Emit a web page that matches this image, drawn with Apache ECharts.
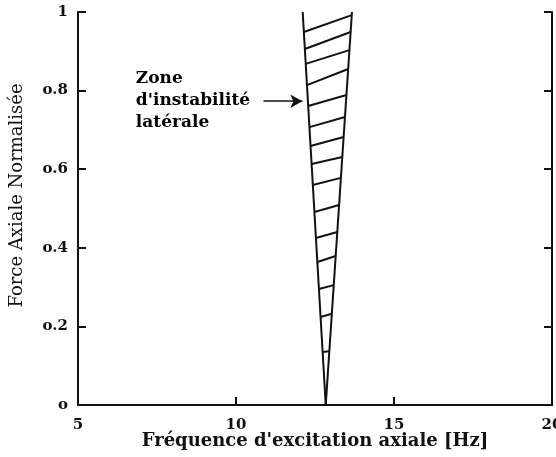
<!DOCTYPE html>
<html>
<head>
<meta charset="utf-8">
<script src="https://cdn.jsdelivr.net/npm/echarts@6/dist/echarts.min.js"></script>
<style>
  html, body { margin: 0; padding: 0; background: #fff; }
  #chart { width: 556px; height: 457px; }
</style>
</head>
<body>
<div id="chart"></div>
<script>
var chart = echarts.init(document.getElementById('chart'));

// bords de la zone d'instabilité : [frequence, force]
var leftEdge = [[12.84, 0], [12.11, 1]];
var rightEdge = [[12.84, 0], [13.67, 1]];

// hachures : hauteur du point gauche et du point droit
var hatchLeftY = [0.949, 0.906, 0.868, 0.814, 0.761, 0.707, 0.659, 0.613, 0.560, 0.491, 0.425, 0.364, 0.295, 0.224, 0.135];
var hatchRightY = [0.992, 0.949, 0.903, 0.855, 0.789, 0.733, 0.682, 0.631, 0.578, 0.509, 0.440, 0.379, 0.305, 0.232, 0.137];

var xTicks = [5, 10, 15, 20];
var yTicks = ['o', 'o.2', 'o.4', 'o.6', 'o.8', '1'];

var arrowFrom = [10.87, 0.773];
var arrowTo = [12.1, 0.773];
var zoneText = ['Zone', "d'instabilité", 'latérale'];
var zoneTextPos = [6.83, 0.775];

// x sur un bord pour une hauteur donnée
function onEdge(edge, y) {
    var a = edge[0], b = edge[1];
    return a[0] + (b[0] - a[0]) * (y - a[1]) / (b[1] - a[1]);
}

var hatchData = [];
for (var i = 0; i < hatchLeftY.length; i++) {
    hatchData.push([onEdge(leftEdge, hatchLeftY[i]), hatchLeftY[i]]);
    hatchData.push([onEdge(rightEdge, hatchRightY[i]), hatchRightY[i]]);
    hatchData.push(null);
}

var serif = 'DejaVu Serif';
var lineStyle = { color: '#111', width: 2 };

var option = {
    animation: false,
    grid: { left: 78, right: 4, top: 12, bottom: 52, outerBoundsMode: 'none' },
    xAxis: [{
        type: 'value', min: 5, max: 20, interval: 5,
        name: "Fréquence d'excitation axiale [Hz]",
        nameLocation: 'middle', nameGap: 27, nameMoveOverlap: false,
        nameTextStyle: { fontFamily: serif, fontSize: 18, fontWeight: 'bold', color: '#111' },
        axisLine: { lineStyle: lineStyle },
        axisTick: { inside: true, length: 8, lineStyle: lineStyle },
        axisLabel: {
            fontFamily: serif, fontSize: 15, fontWeight: 'bold', color: '#111', margin: 13,
            formatter: function (v) { return xTicks.indexOf(v) >= 0 ? String(v) : ''; }
        },
        splitLine: { show: false }
    }, {
        type: 'value', min: 5, max: 20, position: 'top',
        axisLine: { show: true, lineStyle: lineStyle },
        axisTick: { show: false }, axisLabel: { show: false }, splitLine: { show: false }
    }],
    yAxis: [{
        type: 'value', min: 0, max: 1, interval: 0.2,
        name: 'Force Axiale Normalisée',
        nameLocation: 'middle', nameGap: 52,
        nameTextStyle: { fontFamily: serif, fontSize: 18, color: '#111', padding: [0, 0, 0, 26] },
        axisLine: { show: true, lineStyle: lineStyle },
        axisTick: { inside: true, length: 8, lineStyle: lineStyle },
        axisLabel: {
            fontFamily: serif, fontSize: 15, fontWeight: 'bold', color: '#111', margin: 10,
            formatter: function (v) { return yTicks[Math.round(v * 5)]; }
        },
        splitLine: { show: false }
    }, {
        type: 'value', min: 0, max: 1, interval: 0.2, position: 'right',
        axisLine: { show: true, lineStyle: lineStyle },
        axisTick: { inside: true, length: 8, lineStyle: lineStyle },
        axisLabel: { show: false }, splitLine: { show: false }
    }],
    series: [{
        type: 'line', data: leftEdge, symbol: 'none', lineStyle: lineStyle
    }, {
        type: 'line', data: rightEdge, symbol: 'none', lineStyle: lineStyle
    }, {
        type: 'line', data: hatchData, symbol: 'none', connectNulls: false, lineStyle: lineStyle,
        markLine: {
            silent: true, symbol: ['none', 'arrow'], symbolSize: [10, 12],
            lineStyle: { color: '#111', width: 1.5, type: 'solid' },
            label: { show: false },
            data: [[{ coord: arrowFrom }, { coord: arrowTo }]]
        }
    }, {
        type: 'scatter', data: [zoneTextPos], symbolSize: 0,
        itemStyle: { opacity: 1 },
        label: {
            show: true, position: 'right', distance: 0, align: 'left', verticalAlign: 'middle',
            formatter: zoneText.join('\n'), lineHeight: 22,
            fontFamily: serif, fontSize: 17, fontWeight: 'bold', color: '#000'
        }
    }]
};

chart.setOption(option);
</script>
</body>
</html>
